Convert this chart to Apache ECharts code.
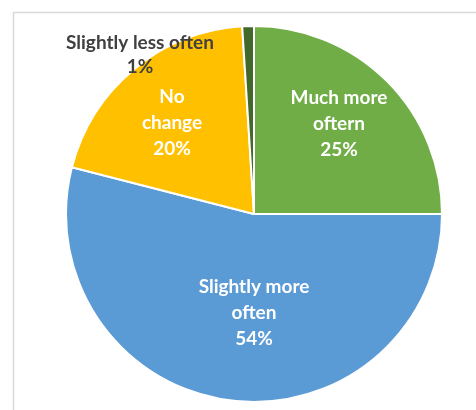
<!DOCTYPE html>
<html>
<head>
<meta charset="utf-8">
<script src="https://cdn.jsdelivr.net/npm/echarts@6/dist/echarts.min.js"></script>
<style>
  html, body { margin: 0; padding: 0; background: #ffffff; }
  #chart { width: 476px; height: 410px; }
</style>
</head>
<body>
<div id="chart"></div>
<script>
// Survey answers, clockwise from 12 o'clock
const categories = ['Much more\noftern', 'Slightly more\noften', 'No\nchange', 'Slightly less often'];
const shares = [25, 54, 20, 1];
const sliceColors = ['#70ad47', '#5b9bd5', '#ffc000', '#43682b'];
const labelColors = ['#ffffff', '#ffffff', '#ffffff', '#404040'];
// Label anchor points (pixels) for each slice's text block
const labelAnchors = [[339, 124], [254, 313], [172, 123], [140, 55]];

const chart = echarts.init(document.getElementById('chart'), null, { renderer: 'canvas' });

chart.setOption({
  backgroundColor: '#ffffff',
  animation: false,
  graphic: [{
    type: 'rect',
    shape: { x: 13.5, y: 12.5, width: 600, height: 600 },
    style: { fill: 'none', stroke: '#d9d9d9', lineWidth: 1.5 },
    silent: true,
    z: 0
  }],
  series: [{
    type: 'pie',
    center: [254, 214],
    radius: [0, 188],
    startAngle: 90,
    clockwise: true,
    avoidLabelOverlap: false,
    itemStyle: { borderColor: '#ffffff', borderWidth: 2 },
    label: {
      show: true,
      position: 'inside',
      fontFamily: 'Lato',
      fontWeight: 'bold',
      fontSize: 19,
      lineHeight: 26,
      align: 'center',
      formatter: p => p.name + '\n' + p.value + '%'
    },
    labelLine: { show: false },
    labelLayout: p => ({
      x: labelAnchors[p.dataIndex][0],
      y: labelAnchors[p.dataIndex][1],
      align: 'center',
      verticalAlign: 'middle'
    }),
    data: categories.map((name, i) => ({
      name: name,
      value: shares[i],
      itemStyle: { color: sliceColors[i] },
      label: { color: labelColors[i], lineHeight: i === 3 ? 24 : 26 }
    }))
  }]
});
</script>
</body>
</html>
